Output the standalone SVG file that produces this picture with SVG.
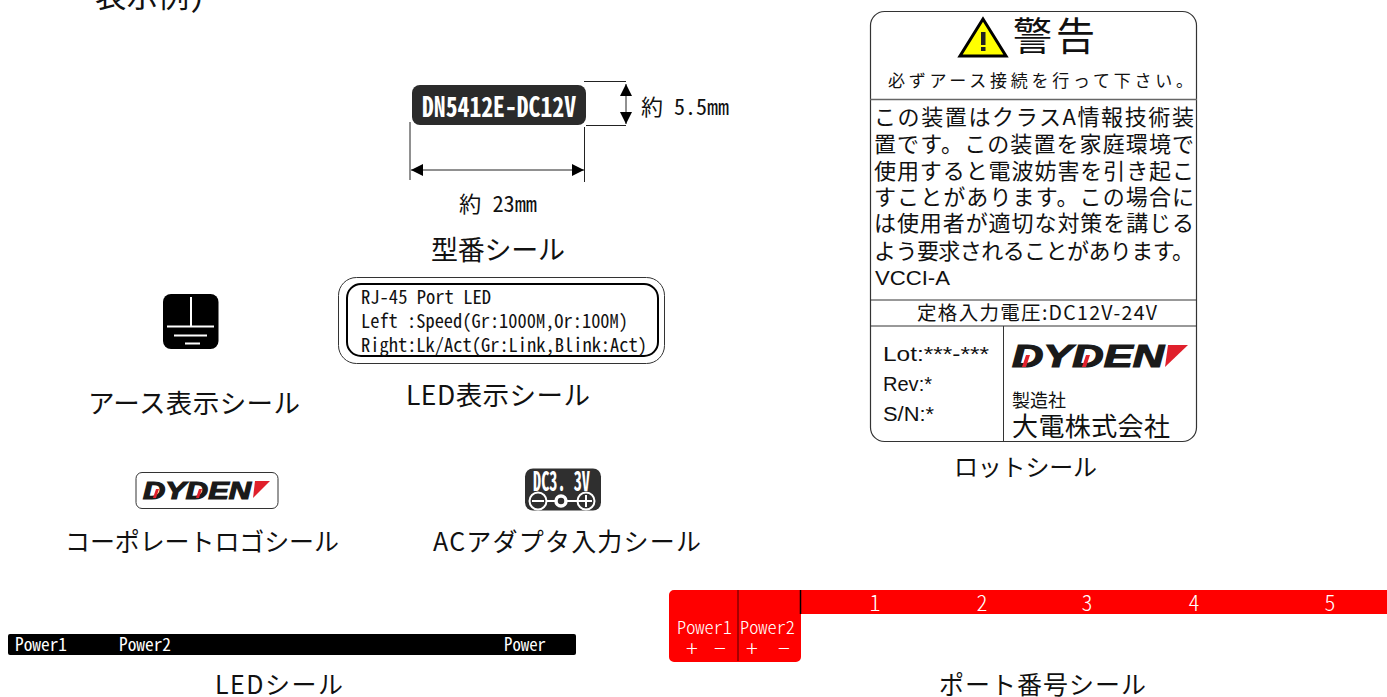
<svg xmlns="http://www.w3.org/2000/svg" width="1387" height="697" viewBox="0 0 1387 697">
<style>
text{font-family:"Noto Sans CJK JP","Noto Sans",sans-serif;fill:#111}
.m{font-feature-settings:"hwid"}
.w{fill:#fff}
.cap{font-size:25px}
.body{font-size:22px}
.a{font-family:"Liberation Sans",sans-serif}
.logo{font-family:"Liberation Sans",sans-serif;font-weight:bold;font-style:italic;fill:#1a1a1a;stroke:#1a1a1a;stroke-width:1.2px}
.red{fill:#e0202c}
.dim{stroke:#222;stroke-width:1;fill:none}
.wl{stroke:#fff;stroke-width:2;fill:none}
</style>
<defs>
<marker id="ah" markerUnits="userSpaceOnUse" markerWidth="12" markerHeight="12" refX="10" refY="5" orient="auto-start-reverse" viewBox="0 0 10 10"><path d="M0 0L10 5L0 10Z" fill="#000"/></marker>
</defs>
<rect width="1387" height="697" fill="#fff"/>
<text class="m" x="95" y="7" font-size="31" textLength="110" lengthAdjust="spacingAndGlyphs">表示例)</text>

<g id="connectors">
<path class="dim" d="M584 81.500H626M586 125.500H626M410 122V180M584.500 127V182"/>
<path class="dim" stroke-width="1.500" marker-start="url(#ah)" marker-end="url(#ah)" d="M626 84V124"/>
<path class="dim" stroke-width="1.500" marker-start="url(#ah)" marker-end="url(#ah)" d="M411 170H584"/>
</g>

<g id="model-seal">
<rect x="412" y="85" width="174" height="40" rx="8" fill="#2b2b2b"/>
<text class="m w" x="422" y="117" font-size="28" textLength="154" lengthAdjust="spacingAndGlyphs" font-weight="700">DN5412E-DC12V</text>
<text class="m" x="641" y="115" font-size="22" textLength="88" lengthAdjust="spacingAndGlyphs">約 5.5mm</text>
<text class="m" x="459" y="212" font-size="22" textLength="78" lengthAdjust="spacingAndGlyphs">約 23mm</text>
<text x="431" y="260" font-size="27" textLength="134">型番シール</text>
</g>

<g id="earth-seal">
<rect x="163" y="294" width="55.500" height="55" rx="8" fill="#000"/>
<path class="wl" d="M191 297V326.500M167 326.500H214M174 335.500H207M185 343.500H200"/>
<text x="88" y="413" style="font-size:26.500px" textLength="212">アース表示シール</text>
</g>

<g id="led-display-seal">
<rect x="338.500" y="277.500" width="326" height="86" rx="18" fill="#fff" stroke="#333"/>
<rect x="347" y="284" width="311" height="72" rx="14" fill="#fff" stroke="#000" stroke-width="2"/>
<text class="m" x="361" y="304" font-size="19" textLength="130" lengthAdjust="spacingAndGlyphs">RJ-45 Port LED</text>
<text class="m" x="361" y="328" font-size="19" textLength="267" lengthAdjust="spacingAndGlyphs">Left :Speed(Gr:1000M,Or:100M)</text>
<text class="m" x="361" y="352" font-size="19" textLength="286" lengthAdjust="spacingAndGlyphs">Right:Lk/Act(Gr:Link,Blink:Act)</text>
<text x="406" y="405" style="font-size:26.500px" textLength="184">LED表示シール</text>
</g>

<g id="corporate-logo-seal">
<rect x="136" y="472.500" width="142" height="36" rx="6" fill="#fff" stroke="#333"/>
<text class="logo" x="143" y="499" font-size="24" textLength="108" lengthAdjust="spacingAndGlyphs">DYDEN</text>
<polygon class="red" points="255,481 270,481 253,498"/>
<polygon class="red" points="156,489 159,489 156,498 153,498"/>
<polygon class="red" points="199,489 202,489 199,498 196,498"/>
<text class="cap" x="65" y="551" textLength="274">コーポレートロゴシール</text>
</g>

<g id="ac-adapter-seal">
<rect x="525" y="468.500" width="76" height="42" rx="8" fill="#2f2f2f"/>
<text class="m w" x="533" y="491" font-size="27" textLength="57" lengthAdjust="spacingAndGlyphs" font-weight="700">DC3. 3V</text>
<circle class="wl" cx="538" cy="501" r="8.500"/>
<circle class="wl" cx="586" cy="501" r="8.500"/>
<circle class="wl" cx="561" cy="501" r="5" style="stroke-width:3.500"/>
<path class="wl" d="M532 501H544M547 501H555M567 501H592M586 495V507"/>
<text class="cap" x="433" y="551" textLength="268">ACアダプタ入力シール</text>
</g>

<g id="lot-seal">
<rect x="870.500" y="11.500" width="326" height="430" rx="14" fill="#fff" stroke="#333" stroke-width="1.200"/>
<path d="M870 99.500H1197" stroke="#666" stroke-width="1.500" fill="none"/>
<path d="M870 300H1197M870 326H1197M1003.500 326V441" stroke="#333" fill="none"/>
<polygon points="983,19 960,56 1006,56" fill="#ff0" stroke="#000" stroke-width="3"/>
<rect x="981" y="32" width="4.500" height="13" fill="#222"/>
<rect x="981" y="47" width="4.500" height="4" fill="#222"/>
<text x="1013" y="50" font-size="39" textLength="82">警 告</text>
<text x="888" y="87" font-size="17" textLength="305">必ずアース接続を行って下さい。</text>
<text class="body" x="874" y="125" textLength="320">この装置はクラスA情報技術装</text>
<text class="body" x="874" y="152" textLength="320">置です。この装置を家庭環境で</text>
<text class="body" x="874" y="179" textLength="320">使用すると電波妨害を引き起こ</text>
<text class="body" x="874" y="205" textLength="320">すことがあります。この場合に</text>
<text class="body" x="874" y="231" textLength="320">は使用者が適切な対策を講じる</text>
<text class="body" x="874" y="259" textLength="320">よう要求されることがあります。</text>
<text class="a" x="875" y="285" font-size="21" textLength="75" lengthAdjust="spacingAndGlyphs">VCCI-A</text>
<text x="917" y="320" font-size="19.500" textLength="240">定格入力電圧:DC12V-24V</text>
<text class="a" x="883" y="361" font-size="20" textLength="106" lengthAdjust="spacingAndGlyphs">Lot:***-***</text>
<text class="a" x="883" y="391" font-size="20" textLength="49" lengthAdjust="spacingAndGlyphs">Rev:*</text>
<text class="a" x="883" y="421" font-size="20" textLength="51" lengthAdjust="spacingAndGlyphs">S/N:*</text>
<text class="logo" x="1012" y="367" font-size="31" textLength="152" lengthAdjust="spacingAndGlyphs">DYDEN</text>
<polygon class="red" points="1168,345 1188,345 1165,367"/>
<polygon class="red" points="1026,355 1030,355 1026,367 1022,367"/>
<polygon class="red" points="1086,355 1090,355 1086,367 1082,367"/>
<text x="1012" y="407" font-size="18" textLength="54">製造社</text>
<text x="1012" y="436" font-size="26" textLength="158">大電株式会社</text>
<text x="954" y="476" font-size="24" textLength="143">ロットシール</text>
</g>

<g id="led-seal">
<rect x="8" y="634" width="568" height="21" rx="2" fill="#000"/>
<text class="m w" x="15" y="651" font-size="18" textLength="52" lengthAdjust="spacingAndGlyphs">Power1</text>
<text class="m w" x="119" y="651" font-size="18" textLength="52" lengthAdjust="spacingAndGlyphs">Power2</text>
<text class="m w" x="504" y="651" font-size="18" textLength="42" lengthAdjust="spacingAndGlyphs">Power</text>
<text class="cap" x="215" y="694" textLength="128">LEDシール</text>
</g>

<g id="port-number-seal">
<path d="M674 590H1387V614H801V657a5 5 0 0 1-5 5H674a5 5 0 0 1-5-5V595a5 5 0 0 1 5-5Z" fill="#f00"/>
<path d="M738 590V661" stroke="#800" stroke-width="1.500" fill="none"/>
<path d="M800.500 590V614" stroke="#000" stroke-width="1.500" fill="none"/>
<text class="m w" x="875" y="611" font-size="22" font-weight="300" text-anchor="middle">1</text>
<text class="m w" x="982" y="611" font-size="22" font-weight="300" text-anchor="middle">2</text>
<text class="m w" x="1087" y="611" font-size="22" font-weight="300" text-anchor="middle">3</text>
<text class="m w" x="1194" y="611" font-size="22" font-weight="300" text-anchor="middle">4</text>
<text class="m w" x="1330" y="611" font-size="22" font-weight="300" text-anchor="middle">5</text>
<text class="m w" x="677" y="634" font-size="18" font-weight="300" textLength="55" lengthAdjust="spacingAndGlyphs">Power1</text>
<text class="m w" x="740" y="634" font-size="18" font-weight="300" textLength="55" lengthAdjust="spacingAndGlyphs">Power2</text>
<text class="w" x="692" y="657" font-size="22" font-weight="300" text-anchor="middle">+</text>
<text class="w" x="720" y="657" font-size="22" font-weight="300" text-anchor="middle">−</text>
<text class="w" x="752" y="657" font-size="22" font-weight="300" text-anchor="middle">+</text>
<text class="w" x="784" y="657" font-size="22" font-weight="300" text-anchor="middle">−</text>
<text class="cap" x="939" y="694" textLength="207">ポート番号シール</text>
</g>
</svg>
